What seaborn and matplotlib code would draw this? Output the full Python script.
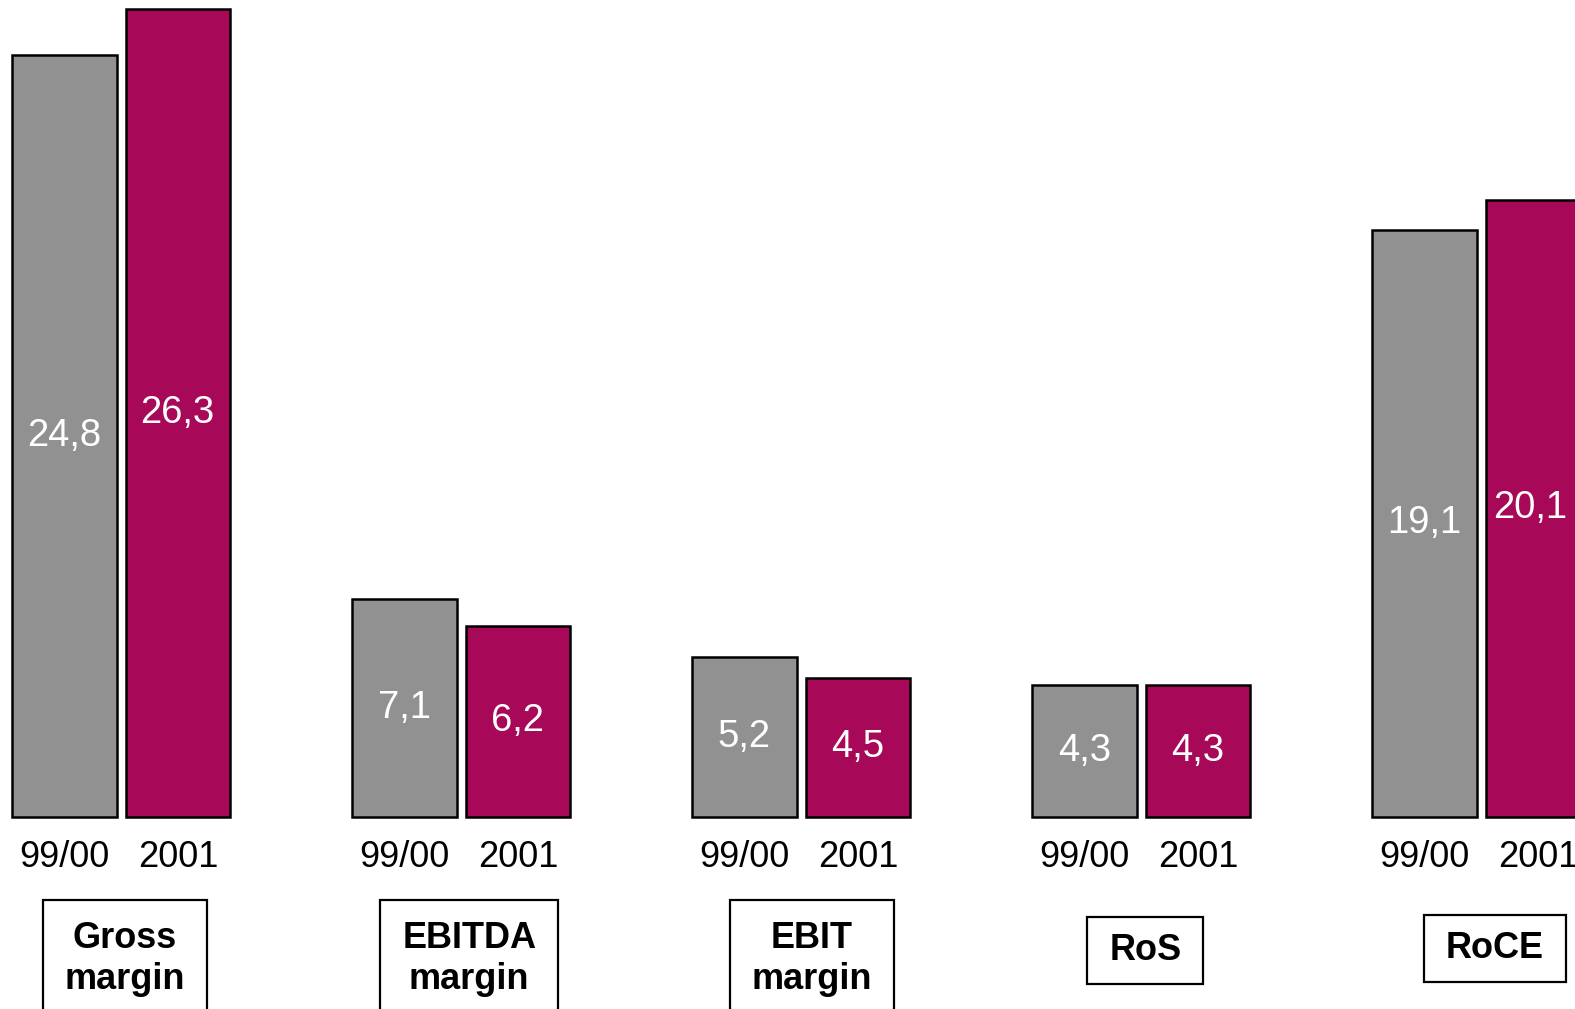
import pandas as pd
import numpy as np
import matplotlib
matplotlib.use("Agg")
import matplotlib.pyplot as plt
from matplotlib.patches import Rectangle
import seaborn as sns

## data
metrics = ["Gross margin", "EBITDA margin", "EBIT margin", "RoS", "RoCE"]
box_labels = ["Gross\nmargin", "EBITDA\nmargin", "EBIT\nmargin", "RoS", "RoCE"]
years = ["99/00", "2001"]
values_9900 = [24.8, 7.1, 5.2, 4.3, 19.1]
values_2001 = [26.3, 6.2, 4.5, 4.3, 20.1]

df = pd.DataFrame(
    {
        "metric": metrics * 2,
        "year": [years[0]] * len(metrics) + [years[1]] * len(metrics),
        "value": values_9900 + values_2001,
    }
)

## style
sns.set_theme(style="white")
plt.rcParams["font.family"] = ["Liberation Sans", "DejaVu Sans"]
plt.rcParams["text.color"] = "black"

colors = {"99/00": "#919191", "2001": "#A80858"}

fig = plt.figure(figsize=(15.75, 10.09), dpi=100)
ax = fig.add_axes([0, 0, 1, 1])

sns.barplot(
    data=df,
    x="metric",
    y="value",
    hue="year",
    hue_order=years,
    palette=colors,
    saturation=1,
    width=0.667,
    gap=0.08,
    edgecolor="black",
    linewidth=1.8,
    legend=False,
    ax=ax,
)

# value labels inside bars
for cont in ax.containers:
    vals = [b.get_height() for b in cont]
    ax.bar_label(
        cont,
        labels=[f"{v:.1f}".replace(".", ",") for v in vals],
        label_type="center",
        color="white",
        fontsize=27.5,
    )

# year labels under each bar, axis placed at zero
offset = 0.167
tick_pos = []
tick_lab = []
for i in range(len(metrics)):
    tick_pos += [i - offset, i + offset]
    tick_lab += years
ax.spines["bottom"].set_position(("data", 0))
ax.set_xticks(tick_pos)
ax.set_xticklabels(tick_lab, fontsize=26, color="black")
ax.tick_params(axis="x", length=0, pad=17, bottom=True)

ax.set_xlim(-0.356, 4.276)
ax.set_ylim(-6.27, 26.6)
ax.set_xlabel("")
ax.set_ylabel("")
ax.set_yticks([])
for s in ax.spines.values():
    s.set_visible(False)

# metric boxes
box_x = [0.011, 1.024, 2.032, 3.012, 4.041]
box_y = [-4.64, -4.64, -4.64, -4.35, -4.29]
texts = []
for lab, bx, by in zip(box_labels, box_x, box_y):
    t = ax.text(
        bx, by, lab,
        ha="center", va="center",
        fontsize=26, fontweight="bold", color="black",
        linespacing=1.2, zorder=5,
    )
    texts.append(t)

fig.canvas.draw()
inv = ax.transData.inverted()
pad_x, pad_y = 22, 16
for t in texts:
    bb = t.get_window_extent()
    top_pad = pad_y + 5 if "\n" in t.get_text() else pad_y
    (x0, y0) = inv.transform((bb.x0 - pad_x, bb.y0 - pad_y))
    (x1, y1) = inv.transform((bb.x1 + pad_x, bb.y1 + top_pad))
    ax.add_patch(
        Rectangle((x0, y0), x1 - x0, y1 - y0, fc="white", ec="black",
                  lw=1.6, zorder=4, clip_on=False)
    )

fig.savefig("out.png", dpi=100)
